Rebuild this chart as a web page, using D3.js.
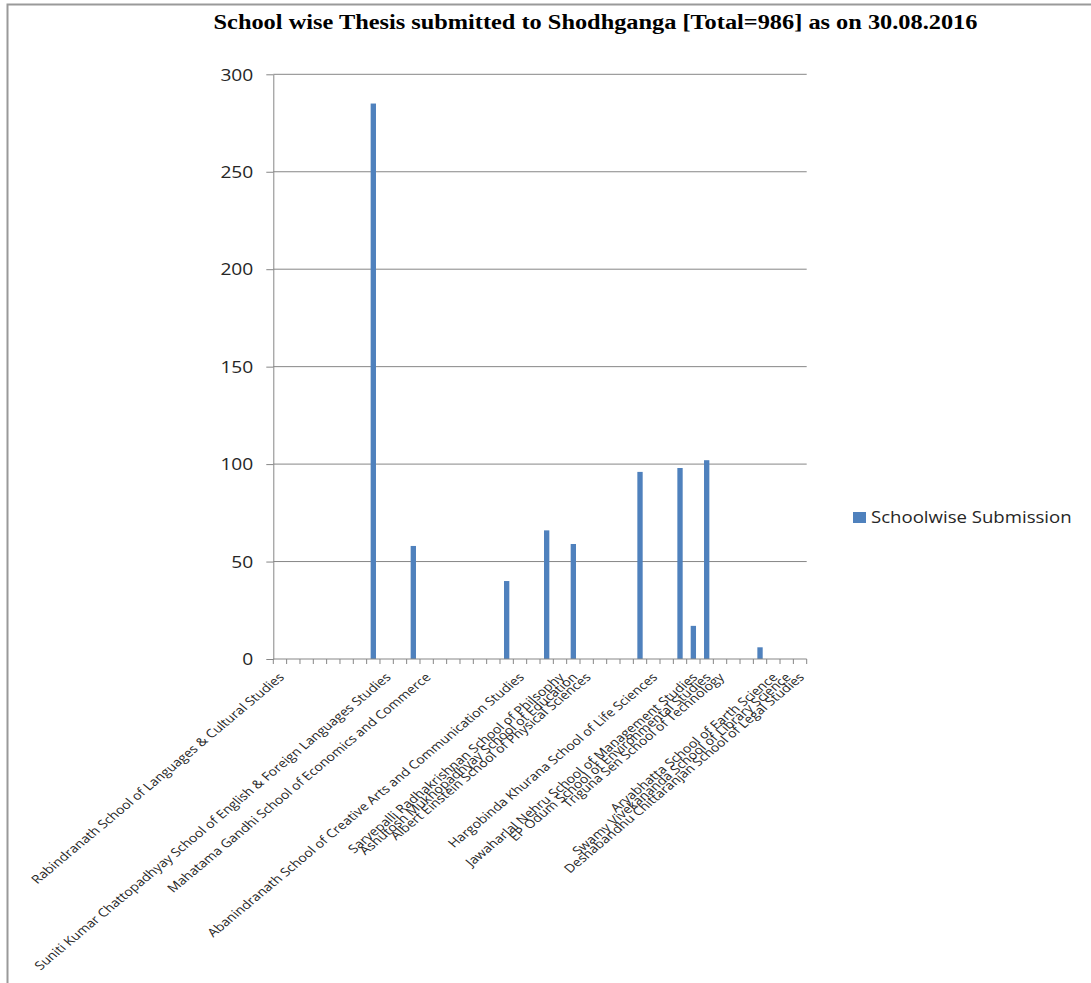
<!DOCTYPE html>
<html>
<head>
<meta charset="utf-8">
<script src="https://cdn.jsdelivr.net/npm/d3@7/dist/d3.min.js"></script>
<style>
    body { margin: 0; background: #fff; }
</style>
</head>
<body>
<div id="chart"></div>
<script>
const chartTitle = "School wise Thesis submitted to Shodhganga [Total=986] as on 30.08.2016";
const seriesName = "Schoolwise Submission";

// 40 rows in the sheet, most of them without a school name
const schools = [
    "Rabindranath School of Languages & Cultural Studies", "", "", "", "", "", "", "",
    "Suniti Kumar Chattopadhyay School of English & Foreign Languages Studies", "", "",
    "Mahatama Gandhi School of Economics and Commerce", "", "", "", "", "", "",
    "Abanindranath School of Creative Arts and Communication Studies", "", "",
    "Sarvepalli Radhakrishnan School of Philsophy",
    "Ashutosh Mukhopadhyay School of Education",
    "Albert Einstein School of Physical Sciences", "", "", "", "",
    "Hargobinda Khurana School of Life Sciences", "", "",
    "Jawaharlal Nehru School of Management Studies",
    "EP Odum School of Environmental Studies",
    "Triguna Sen School of Technology", "", "", "",
    "Aryabhatta School of Earth Science",
    "Swamy Vivekananda School of Library Science",
    "Deshabandhu Chittaranjan School of Legal Studies"
];

const submissions = [
    0, 0, 0, 0, 0, 0, 0, 285, 0, 0,
    58, 0, 0, 0, 0, 0, 0, 40, 0, 0,
    66, 0, 59, 0, 0, 0, 0, 96, 0, 0,
    98, 17, 102, 0, 0, 0, 6, 0, 0, 0
];

const yTicks = [0, 50, 100, 150, 200, 250, 300];

const params = {
    width: 1091, height: 983,
    left: 273.3, right: 806.7, top: 74.3, bottom: 659,
    stretch: 1.2,   // the picture is a bit wider than tall
    grey: "#868686", blue: "#4f81bd"
};

const svg = d3.select("#chart").append("svg")
    .attr("width", params.width)
    .attr("height", params.height);

// outer frame of the pasted chart
svg.append("rect")
    .attr("x", 7.5).attr("y", 4.5)
    .attr("width", params.width + 20).attr("height", params.height + 20)
    .attr("fill", "none").attr("stroke", "#9a9a9a").attr("stroke-width", 2);

const x = d3.scaleBand()
    .domain(d3.range(schools.length))
    .range([params.left, params.right])
    .padding(0);

const y = d3.scaleLinear()
    .domain([0, 300])
    .range([params.bottom, params.top]);

// gridlines
svg.append("g").selectAll("line")
    .data(yTicks.filter(d => d > 0))
    .join("line")
    .attr("x1", params.left).attr("x2", params.right)
    .attr("y1", d => y(d)).attr("y2", d => y(d))
    .attr("stroke", params.grey).attr("stroke-width", 1);

// y axis
const yAxis = svg.append("g")
    .attr("transform", `translate(${params.left},0)`)
    .call(d3.axisLeft(y).tickValues(yTicks).tickSize(7).tickSizeOuter(0));
yAxis.select(".domain").attr("stroke", params.grey);
yAxis.selectAll(".tick line").attr("stroke", params.grey);
yAxis.selectAll(".tick text")
    .attr("x", -20 / params.stretch)
    .attr("dy", "0.36em")
    .attr("transform", `scale(${params.stretch},1)`)
    .style("font-family", "'Open Sans', sans-serif")
    .style("font-size", "16px")
    .attr("fill", "#262626");

// bars
const barW = x.bandwidth() * 0.4;
svg.append("g").selectAll("rect")
    .data(submissions.map((v, i) => ({ i, v })).filter(d => d.v > 0))
    .join("rect")
    .attr("x", d => x(d.i) + (x.bandwidth() - barW) / 2)
    .attr("y", d => y(d.v))
    .attr("width", barW)
    .attr("height", d => y(0) - y(d.v))
    .attr("fill", params.blue);

// x axis line and the ticks between categories
svg.append("line")
    .attr("x1", params.left).attr("x2", params.right)
    .attr("y1", params.bottom).attr("y2", params.bottom)
    .attr("stroke", params.grey);
svg.append("g").selectAll("line")
    .data(d3.range(schools.length + 1))
    .join("line")
    .attr("x1", i => params.left + i * x.step())
    .attr("x2", i => params.left + i * x.step())
    .attr("y1", params.bottom).attr("y2", params.bottom + 5)
    .attr("stroke", params.grey);

// slanted category labels
svg.append("g").selectAll("text")
    .data(schools.map((name, i) => ({ name, i })).filter(d => d.name))
    .join("text")
    .attr("transform", d => `translate(${x(d.i) + x.bandwidth() / 2 + 5},${params.bottom + 19}) scale(${params.stretch},1) rotate(-45)`)
    .attr("text-anchor", "end")
    .style("font-family", "'Open Sans', sans-serif")
    .style("font-size", "11.8px")
    .attr("fill", "#262626")
    .text(d => d.name);

// title
svg.append("text")
    .attr("transform", `translate(595.5,29) scale(${params.stretch},1)`)
    .attr("text-anchor", "middle")
    .style("font-family", "'Liberation Serif', 'Times New Roman', serif")
    .style("font-weight", "bold")
    .style("font-size", "20.3px")
    .attr("fill", "#000")
    .text(chartTitle);

// legend
const legend = svg.append("g").attr("transform", "translate(853,512)");
legend.append("rect")
    .attr("width", 13).attr("height", 11)
    .attr("fill", params.blue);
legend.append("text")
    .attr("transform", `translate(18,11) scale(${params.stretch},1)`)
    .style("font-family", "'Open Sans', sans-serif")
    .style("font-size", "15.5px")
    .attr("fill", "#262626")
    .text(seriesName);
</script>
</body>
</html>
